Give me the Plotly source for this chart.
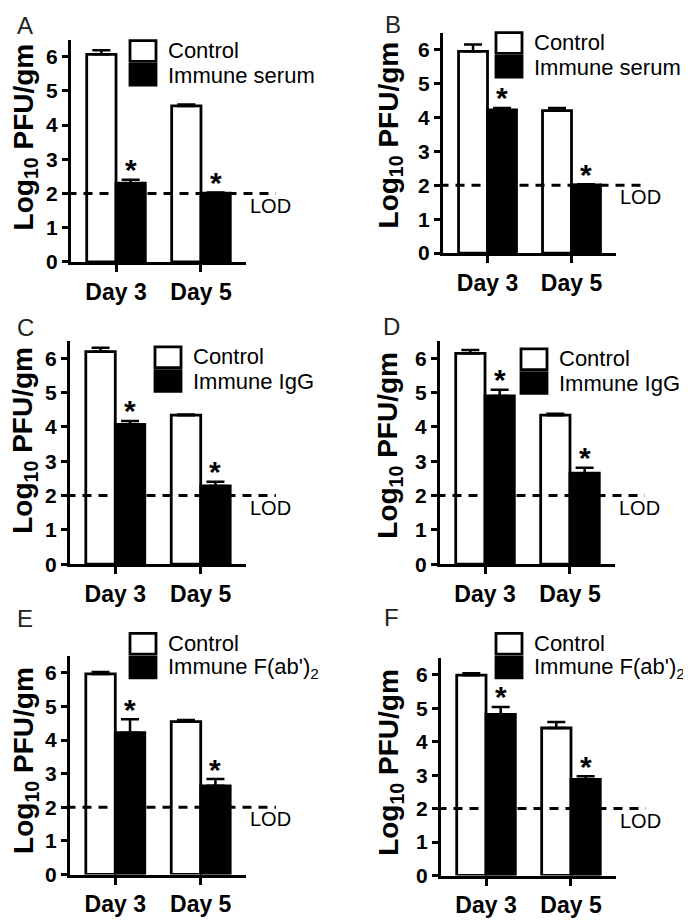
import plotly.graph_objects as go

# ---------------- data ----------------
categories = ["Day 3", "Day 5"]
panel_letters = ["A", "B", "C", "D", "E", "F"]
treatments = ["Immune serum", "Immune serum", "Immune IgG", "Immune IgG",
              "Immune F(ab')<sub>2</sub>", "Immune F(ab')<sub>2</sub>"]
control_mean = [[6.07, 4.56], [5.95, 4.20], [6.19, 4.34], [6.14, 4.34], [5.97, 4.55], [5.99, 4.41]]
control_sem = [[0.12, 0.04], [0.20, 0.08], [0.11, 0.02], [0.10, 0.04], [0.06, 0.05], [0.06, 0.18]]
immune_mean = [[2.30, 2.01], [4.22, 2.01], [4.07, 2.28], [4.90, 2.65], [4.22, 2.64], [4.82, 2.87]]
immune_sem = [[0.10, 0.02], [0.06, 0.02], [0.10, 0.12], [0.18, 0.16], [0.40, 0.20], [0.22, 0.10]]
LOD = 2.0
y_ticks = [0, 1, 2, 3, 4, 5, 6]
Y_MAX = 6.5

# ---------------- layout (pixel positions) ----------------
W, H = 691, 920
FONT = "Liberation Sans, Arial, sans-serif"
BARGAP = 0.31
X_RANGE = [-0.53, 1.53]
panel_box = [(63, 238, 32, 257), (435, 608, 25, 248), (62, 238, 337, 563),
             (432, 607, 337, 563), (62, 238, 656, 877), (433, 608, 658, 878)]
legend_xy = [(122, 33), (488, 25), (147, 343), (513, 345), (122, 633), (488, 633)]
letter_xy = [(17, 18), (385, 17), (17, 323), (383, 322), (17, 618), (383, 617)]
ytitle_xy = [(17, 131), (382, 128), (17, 438), (382, 442), (18, 762), (383, 764)]


def px(x):
    return x / W


def py(y):
    return 1 - y / H


fig = go.Figure()
shapes = []
annotations = []

for k in range(6):
    n = k + 1
    xa = "x" if n == 1 else f"x{n}"
    ya = "y" if n == 1 else f"y{n}"
    err_style = dict(type="data", symmetric=False, arrayminus=[0, 0],
                     thickness=2.5, width=9, color="black")
    fig.add_trace(go.Bar(
        x=categories, y=control_mean[k], xaxis=xa, yaxis=ya,
        marker=dict(color="white", line=dict(color="black", width=2.8)),
        error_y=dict(array=control_sem[k], **err_style),
        showlegend=False, name="Control"))
    fig.add_trace(go.Bar(
        x=categories, y=immune_mean[k], xaxis=xa, yaxis=ya,
        marker=dict(color="black", line=dict(color="black", width=2.8)),
        error_y=dict(array=immune_sem[k], **err_style),
        showlegend=False, name=treatments[k]))

    x0, x1, yt, yb = panel_box[k]
    xkey = "xaxis" if n == 1 else f"xaxis{n}"
    ykey = "yaxis" if n == 1 else f"yaxis{n}"
    fig.update_layout(**{
        xkey: dict(domain=[px(x0), px(x1)], anchor=ya, range=X_RANGE,
                   type="category", showline=True, linecolor="black", linewidth=3,
                   ticks="outside", ticklen=7, tickwidth=2.5, tickcolor="black",
                   showgrid=False, zeroline=False,
                   tickfont=dict(family=FONT, size=23, color="black", weight="bold")),
        ykey: dict(domain=[py(yb), py(yt)], anchor=xa, range=[0, Y_MAX],
                   tickvals=y_ticks, showline=True, linecolor="black", linewidth=3,
                   ticks="outside", ticklen=6, tickwidth=2.5, tickcolor="black",
                   showgrid=False, zeroline=False,
                   tickfont=dict(family=FONT, size=21, color="black", weight="bold")),
    })

    # LOD dashed line
    shapes.append(dict(type="line", xref=f"{xa} domain", yref=f"{ya} domain",
                       x0=-0.02, x1=1.17, y0=LOD / Y_MAX, y1=LOD / Y_MAX,
                       line=dict(color="black", width=3, dash="9px,7px"), layer="above"))
    annotations.append(dict(xref=f"{xa} domain", yref=ya, x=1.01, y=LOD - 0.36,
                            text="LOD", showarrow=False, xanchor="left", yanchor="middle",
                            font=dict(family=FONT, size=20, color="black")))

    # significance stars above immune bars
    off = (1 - BARGAP) / 4
    for i in range(len(categories)):
        annotations.append(dict(xref=xa, yref=ya, x=i + off,
                                y=immune_mean[k][i] + immune_sem[k][i] + 0.3,
                                text="*", showarrow=False, xanchor="center", yanchor="middle",
                                font=dict(family=FONT, size=30, color="black", weight="bold")))

    # legend (manual)
    lx, ly = legend_xy[k]
    bw, bh = 26, 21
    shapes.append(dict(type="rect", xref="paper", yref="paper",
                       x0=px(lx), x1=px(lx + bw), y0=py(ly + bh), y1=py(ly),
                       fillcolor="white", line=dict(color="black", width=2.8)))
    shapes.append(dict(type="rect", xref="paper", yref="paper",
                       x0=px(lx), x1=px(lx + bw), y0=py(ly + bh + 24), y1=py(ly + 24),
                       fillcolor="black", line=dict(color="black", width=2.8)))
    annotations.append(dict(xref="paper", yref="paper", x=px(lx + 36), y=py(ly + 10),
                            text="Control", showarrow=False, xanchor="left", yanchor="middle",
                            font=dict(family=FONT, size=22, color="black")))
    annotations.append(dict(xref="paper", yref="paper", x=px(lx + 36), y=py(ly + 35),
                            text=treatments[k], showarrow=False, xanchor="left", yanchor="middle",
                            font=dict(family=FONT, size=22, color="black")))

    # panel letter
    lx2, ly2 = letter_xy[k]
    annotations.append(dict(xref="paper", yref="paper", x=px(lx2), y=py(ly2),
                            text=panel_letters[k], showarrow=False, xanchor="center",
                            yanchor="middle", font=dict(family=FONT, size=24, color="#222")))
    # y-axis title
    tx, ty = ytitle_xy[k]
    annotations.append(dict(xref="paper", yref="paper", x=px(tx), y=py(ty),
                            text="Log<sub>10</sub> PFU/gm", textangle=-90, showarrow=False,
                            xanchor="center", yanchor="middle",
                            font=dict(family=FONT, size=28, color="black", weight="bold")))

fig.update_layout(
    width=W, height=H, margin=dict(l=0, r=0, t=0, b=0),
    paper_bgcolor="white", plot_bgcolor="white",
    barmode="group", bargap=BARGAP, bargroupgap=0,
    shapes=shapes, annotations=annotations,
    font=dict(family=FONT, color="black"),
)

fig.write_html("out.html")
